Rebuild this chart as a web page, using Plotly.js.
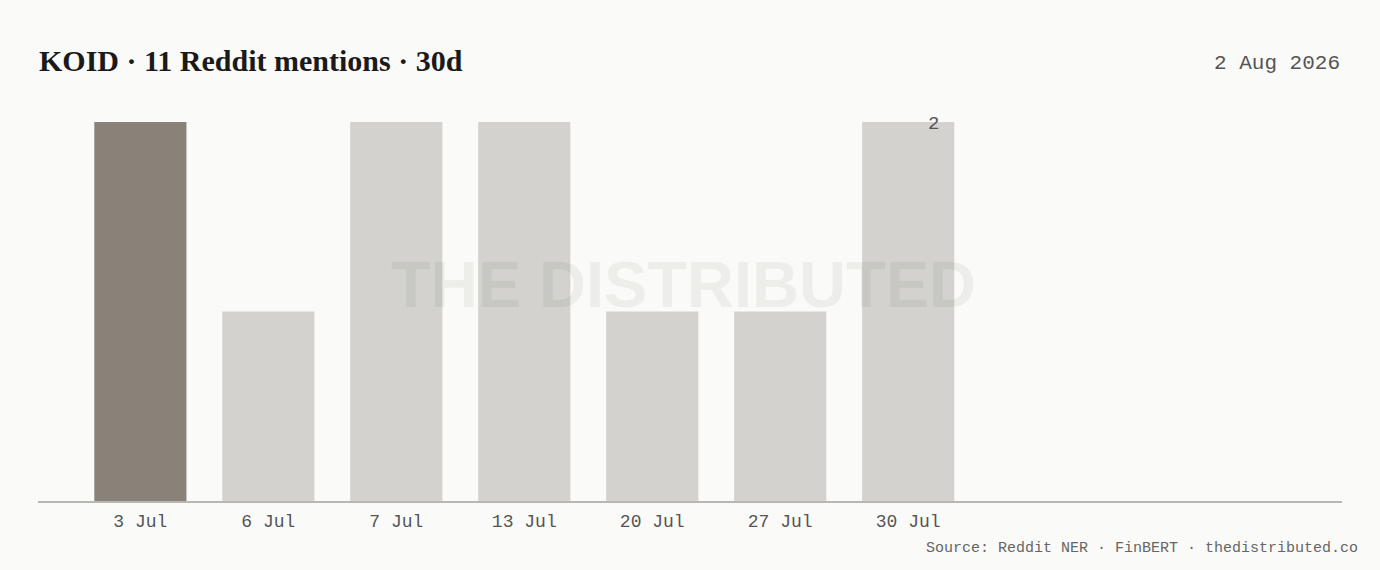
<!DOCTYPE html>
<html>
<head>
<meta charset="utf-8">
<script src="https://cdn.plot.ly/plotly-3.0.1.min.js"></script>
<style>
html,body{margin:0;padding:0;background:#FAFAF8;}
#chart{width:1380px;height:570px;}
</style>
</head>
<body>
<div id="chart"></div>
<script>
const categories = ["3 Jul", "6 Jul", "7 Jul", "13 Jul", "20 Jul", "27 Jul", "30 Jul"];
const mentions = [2, 1, 2, 2, 1, 1, 2];
const highlightIndex = 0;
const titleText = "KOID · 11 Reddit mentions · 30d";
const dateText = "2 Aug 2026";
const sourceText = "Source: Reddit NER · FinBERT · thedistributed.co";
const watermarkText = "THE DISTRIBUTED";

const barColors = categories.map((c, i) => i === highlightIndex ? "#888279" : "#D3D2CE");
const mono = "'Liberation Mono', 'DejaVu Sans Mono', monospace";
const lastIdx = categories.length - 1;

const trace = {
  type: "bar",
  x: categories,
  y: mentions,
  width: 0.72,
  marker: {color: barColors, line: {width: 0}},
  hoverinfo: "skip"
};

const layout = {
  width: 1380, height: 570,
  paper_bgcolor: "#FAFAF8",
  plot_bgcolor: "#FAFAF8",
  margin: {l: 38, r: 38, t: 122, b: 69},
  showlegend: false,
  bargap: 0.28,
  xaxis: {
    type: "category",
    range: [-0.8, 9.39],
    showgrid: false,
    zeroline: false,
    showline: true,
    linecolor: "#B8B7B2",
    linewidth: 1.5,
    ticks: "outside",
    ticklen: 3,
    tickcolor: "rgba(0,0,0,0)",
    tickfont: {family: mono, size: 18, color: "#555"},
    fixedrange: true
  },
  yaxis: {
    range: [0, 2],
    visible: false,
    showgrid: false,
    zeroline: false,
    fixedrange: true
  },
  annotations: [
    {
      xref: "paper", yref: "paper", x: 0, y: 1, xshift: -1, yshift: 62,
      xanchor: "left", yanchor: "middle",
      text: titleText, showarrow: false,
      font: {family: "'Liberation Serif', 'DejaVu Serif', serif", size: 30, color: "#1a1a1a", weight: 700}
    },
    {
      xref: "paper", yref: "paper", x: 1, y: 1, yshift: 59,
      xanchor: "right", yanchor: "middle",
      text: dateText, showarrow: false,
      font: {family: mono, size: 21, color: "#555"}
    },
    {
      xref: "x", yref: "y", x: categories[lastIdx], y: mentions[lastIdx],
      xshift: 25, yshift: -2, yanchor: "middle", xanchor: "center",
      text: String(mentions[lastIdx]), showarrow: false,
      font: {family: mono, size: 19, color: "#555"}
    },
    {
      xref: "paper", yref: "paper", x: 0.495, y: 0.57,
      xanchor: "center", yanchor: "middle",
      text: watermarkText, showarrow: false,
      font: {family: "'Liberation Sans', Arial, sans-serif", size: 65, color: "rgba(60,55,50,0.065)", weight: 700}
    },
    {
      xref: "paper", yref: "paper", x: 1, y: 0, xshift: 18, yshift: -47,
      xanchor: "right", yanchor: "middle",
      text: sourceText, showarrow: false,
      font: {family: mono, size: 15, color: "#666"}
    }
  ]
};

Plotly.newPlot("chart", [trace], layout, {displayModeBar: false, staticPlot: true});
</script>
</body>
</html>
